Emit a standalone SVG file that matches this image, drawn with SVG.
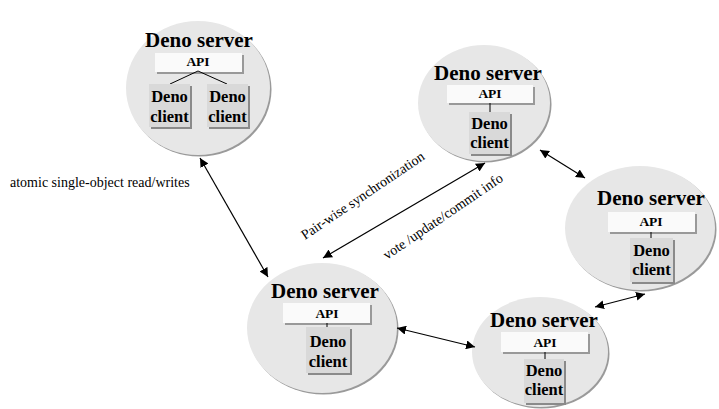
<svg xmlns="http://www.w3.org/2000/svg" width="719" height="409" viewBox="0 0 719 409">
<defs>
<style>
.sh{fill:#9a9a9a}
.bg{fill:#e7e7e7}
.srv{font-family:"Liberation Serif","Times New Roman",serif;font-weight:bold;font-size:21px;text-anchor:middle;fill:#000}
.api{font-family:"Liberation Serif","Times New Roman",serif;font-weight:bold;font-size:13.5px;text-anchor:middle;fill:#000}
.cl{font-family:"Liberation Serif","Times New Roman",serif;font-weight:bold;font-size:16.5px;text-anchor:middle;fill:#000}
.lbl{font-family:"Liberation Serif","Times New Roman",serif;font-size:14px;fill:#000}
.apibox{fill:#fafafa}
.apish{fill:#999}
.clbox{fill:#d9d9d9}
.clsh{fill:#8a8a8a}
.tie{stroke:#000;stroke-width:1;fill:none}
.con{stroke:#000;stroke-width:1.2;fill:none;marker-start:url(#ah);marker-end:url(#ah)}
</style>
<marker id="ah" viewBox="0 0 10 10" refX="10" refY="5" markerWidth="9" markerHeight="9" markerUnits="userSpaceOnUse" orient="auto-start-reverse">
<path d="M0,0 L10,5 L0,10 z" fill="#000"/>
</marker>
</defs>

<g id="node-top-left">
<ellipse class="sh" cx="199.5" cy="89.5" rx="72" ry="67"/>
<ellipse class="bg" cx="198" cy="88" rx="72" ry="67"/>
<text class="srv" x="199" y="47">Deno server</text>
<rect class="apish" x="157" y="55" width="87" height="19"/>
<rect class="apibox" x="155" y="53" width="87" height="19"/>
<text class="api" x="198" y="66">API</text>
<path class="tie" d="M198,71 L170,84 M198,71 L227,84"/>
<rect class="clsh" x="151" y="86" width="41" height="43"/>
<rect class="clbox" x="149" y="84" width="41" height="43"/>
<text class="cl" x="169.5" y="102">Deno</text>
<text class="cl" x="169.5" y="122">client</text>
<rect class="clsh" x="209" y="86" width="41" height="43"/>
<rect class="clbox" x="207" y="84" width="41" height="43"/>
<text class="cl" x="227.5" y="102">Deno</text>
<text class="cl" x="227.5" y="122">client</text>
</g>

<g id="node-top-mid">
<ellipse class="sh" cx="485.5" cy="104.5" rx="66" ry="58"/>
<ellipse class="bg" cx="484" cy="103" rx="66" ry="58"/>
<text class="srv" x="488" y="80">Deno server</text>
<rect class="apish" x="449" y="87" width="86" height="18"/>
<rect class="apibox" x="447" y="85" width="86" height="18"/>
<text class="api" x="490" y="98">API</text>
<path class="tie" d="M490,103 L490,112"/>
<rect class="clsh" x="471" y="114" width="41" height="42"/>
<rect class="clbox" x="469" y="112" width="41" height="42"/>
<text class="cl" x="489.5" y="129">Deno</text>
<text class="cl" x="489.5" y="148">client</text>
</g>

<g id="node-right">
<ellipse class="sh" cx="641.5" cy="229.5" rx="75" ry="62"/>
<ellipse class="bg" cx="640" cy="228" rx="75" ry="62"/>
<text class="srv" x="651" y="205">Deno server</text>
<rect class="apish" x="610" y="214" width="87" height="20"/>
<rect class="apibox" x="608" y="212" width="87" height="20"/>
<text class="api" x="651" y="226">API</text>
<path class="tie" d="M651,232 L651,238"/>
<rect class="clsh" x="632" y="240" width="43" height="44"/>
<rect class="clbox" x="630" y="238" width="43" height="44"/>
<text class="cl" x="651.5" y="256">Deno</text>
<text class="cl" x="651.5" y="275">client</text>
</g>

<g id="node-bottom-mid">
<ellipse class="sh" cx="323.5" cy="329.5" rx="75" ry="65"/>
<ellipse class="bg" cx="322" cy="328" rx="75" ry="65"/>
<text class="srv" x="325" y="298">Deno server</text>
<rect class="apish" x="285" y="305" width="87" height="20"/>
<rect class="apibox" x="283" y="303" width="87" height="20"/>
<text class="api" x="327" y="318">API</text>
<path class="tie" d="M327,323 L327,327"/>
<rect class="clsh" x="308" y="329" width="44" height="46"/>
<rect class="clbox" x="306" y="327" width="44" height="46"/>
<text class="cl" x="328" y="347">Deno</text>
<text class="cl" x="328" y="367">client</text>
</g>

<g id="node-bottom-right">
<ellipse class="sh" cx="541.5" cy="353.5" rx="68" ry="55"/>
<ellipse class="bg" cx="540" cy="352" rx="68" ry="55"/>
<text class="srv" x="544" y="327">Deno server</text>
<rect class="apish" x="503" y="334" width="87" height="20"/>
<rect class="apibox" x="501" y="332" width="87" height="20"/>
<text class="api" x="545" y="347">API</text>
<path class="tie" d="M545,352 L545,359"/>
<rect class="clsh" x="526" y="361" width="40" height="44"/>
<rect class="clbox" x="524" y="359" width="40" height="44"/>
<text class="cl" x="544" y="376">Deno</text>
<text class="cl" x="544" y="395">client</text>
</g>

<g id="connectors">
<line class="con" x1="200" y1="158" x2="268" y2="277"/>
<line class="con" x1="323" y1="258" x2="485" y2="163"/>
<line class="con" x1="540" y1="150" x2="585" y2="178"/>
<line class="con" x1="397" y1="328" x2="475" y2="347"/>
<line class="con" x1="595" y1="307" x2="645" y2="294"/>
</g>

<g id="labels">
<text class="lbl" x="10" y="187">atomic single-object read/writes</text>
<text class="lbl" transform="translate(305,240) rotate(-34)">Pair-wise synchronization</text>
<text class="lbl" transform="translate(387,260) rotate(-34.3)">vote /update/commit info</text>
</g>
</svg>
